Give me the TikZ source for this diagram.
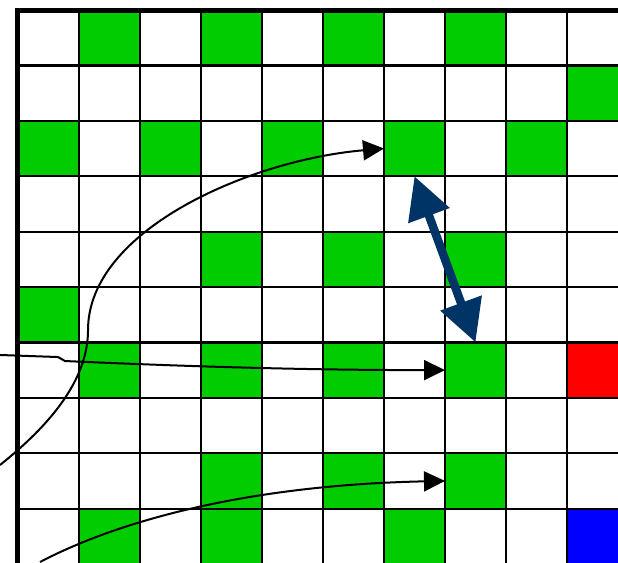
\documentclass[tikz,border=0pt]{standalone}
\usetikzlibrary{positioning,arrows.meta}
\definecolor{cellgreen}{RGB}{0,204,0}
\definecolor{navy}{RGB}{0,51,102}

\begin{document}
\begin{tikzpicture}[
  x=61pt, y=-55.4pt,
  cell/.style={draw,line width=2.2pt,minimum width=61pt,minimum height=55.4pt,inner sep=0pt,outer sep=0pt},
  move/.style={line width=2pt,-{Triangle[length=21pt,width=20pt]}},
  swap/.style={line width=8.5pt,draw=navy,{Triangle[length=42pt,width=42pt]}-{Triangle[length=42pt,width=42pt]}}
  ]

   \useasboundingbox (-0.295,-0.1805) rectangle (9.836,9.964);
   \clip (-0.295,-0.1805) rectangle (9.836,9.964);

   \foreach \r/\c in {0/1,0/3,0/5,0/7,1/9,2/0,2/2,2/4,2/6,2/8,4/3,4/5,4/7,5/0,
                      6/1,6/3,6/5,6/7,8/3,8/5,8/7,9/1,9/3,9/6}
     \fill [cellgreen] (\c,\r) rectangle ++(1,1);
   \fill [red] (9,6) rectangle ++(1,1);
   \fill [blue] (9,9) rectangle ++(1,1);

   \foreach \r in {0,...,9}
     \foreach \c in {0,...,9}
       \node (c-\r-\c) [cell] at (\c+0.5,\r+0.5) {};

   \draw [line width=5pt] (c-9-0.south west) -- (c-0-0.north west) -- (c-0-9.north east);

   \coordinate (a1) at (-0.295,8.213);
   \coordinate (a2) at (-0.295,6.227);
   \coordinate (a3) at (0.361,9.964);

   \draw [move] (a1) .. controls (0.525,7.491) and (1.148,6.679) .. (1.148,5.776)
                     .. controls (1.148,3.971) and (3.803,2.708) .. (c-2-6.west);
   \draw [move] (a2) -- (0.656,6.264) -- (0.770,6.336)
                     .. controls (2.5,6.42) and (4.5,6.5) .. (c-6-7.west);
   \draw [move] (a3) .. controls (1.672,9.206) and (3.803,8.574) .. (c-8-7.west);

   \draw [swap] (c-2-6.south) -- (c-6-7.north);

\end{tikzpicture}
\end{document}
